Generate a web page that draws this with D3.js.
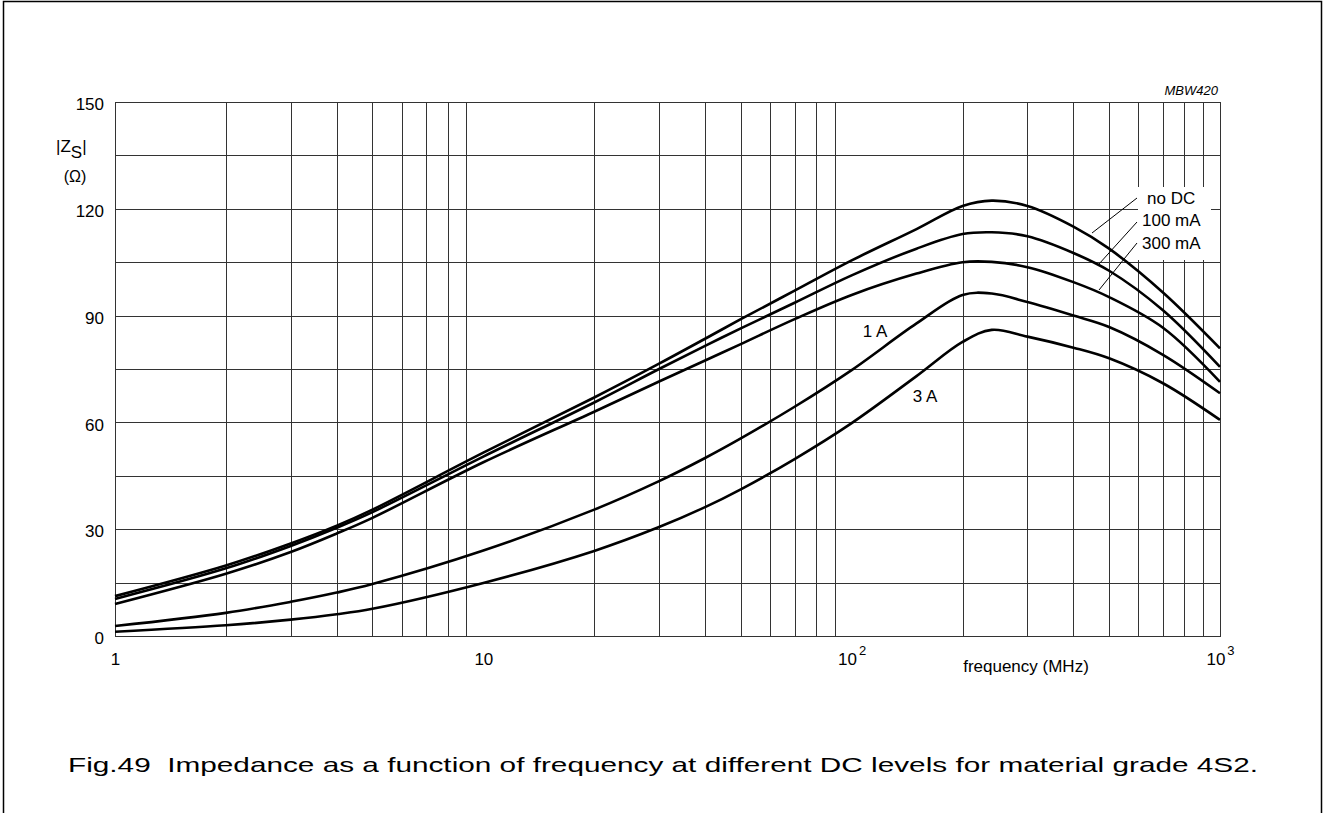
<!DOCTYPE html>
<html>
<head>
<meta charset="utf-8">
<script src="https://cdn.jsdelivr.net/npm/d3@7"></script>
<style>
  body { margin: 0; background: #fff; }
  svg text { font-family: "Liberation Sans", Arial, Helvetica, sans-serif; fill: #000; }
</style>
</head>
<body>
<div id="chart"></div>
<script>
const width = 1325;
const height = 813;
const margin = { top: 102, right: 105, bottom: 177, left: 115 };

// frequency points (MHz)
const freq = [1, 2, 3, 4, 5, 10, 20, 30, 40, 50, 70, 100, 150, 200, 240, 300, 400, 500, 700, 1000];

// |Zs| in ohm for each DC level
const noDC  = [11.2, 19.8, 26.0, 31.0, 35.5, 51.5, 67.0, 76.5, 83.5, 89.0, 97.0, 105.5, 114.3, 120.8, 122.3, 120.8, 115.0, 108.8, 96.5, 80.8];
const mA100 = [10.4, 19.0, 25.3, 30.4, 34.8, 50.4, 65.6, 75.0, 81.5, 86.4, 93.6, 101.3, 108.8, 112.9, 113.4, 112.3, 107.6, 102.6, 91.5, 75.6];
const mA300 = [9.0, 17.5, 23.6, 28.8, 33.2, 48.8, 63.0, 71.5, 77.4, 82.0, 89.0, 95.8, 101.8, 105.0, 105.1, 103.6, 99.4, 95.2, 86.6, 71.4];
const A1    = [2.8, 6.5, 9.6, 12.2, 14.6, 24.0, 35.5, 43.5, 50.0, 55.5, 64.4, 74.7, 87.8, 95.8, 96.2, 93.8, 90.0, 86.8, 79.0, 68.2];
const A3    = [1.2, 3.0, 4.6, 6.1, 7.65, 14.9, 23.9, 30.6, 36.2, 41.2, 49.7, 59.8, 73.0, 82.6, 86.0, 84.1, 81.0, 78.0, 71.0, 60.7];

const series = [noDC, mA100, mA300, A1, A3];

const yTicks = [0, 30, 60, 90, 120, 150];
const xTicks = [1, 10, 100, 1000];
const xTickLabels = [["1", ""], ["10", ""], ["10", "2"], ["10", "3"]];

const svg = d3.select("#chart")
    .append("svg")
    .attr("width", width)
    .attr("height", height);

// page frame
svg.append("path")
    .attr("d", `M3.5,${height + 5} V1.5 H1321.5 V${height + 5}`)
    .attr("fill", "none")
    .attr("stroke", "#000")
    .attr("stroke-width", 1.5);

const xScale = d3.scaleLog()
    .domain([1, 1000])
    .range([margin.left, width - margin.right]);

const yScale = d3.scaleLinear()
    .domain([0, 150])
    .range([height - margin.bottom, margin.top]);

// grid: every 1..9 per decade, every 15 ohm
const xGrid = [];
for (let d = 1; d < 1000; d *= 10) {
    for (let k = 2; k <= 9; k++) xGrid.push(d * k);
}
const yGrid = d3.range(15, 150, 15);

const grid = svg.append("g").attr("stroke", "#333").attr("stroke-width", 1);
grid.selectAll(".vx").data(xGrid).enter()
    .append("line")
    .attr("x1", d => Math.round(xScale(d)) + 0.5)
    .attr("x2", d => Math.round(xScale(d)) + 0.5)
    .attr("y1", yScale(0))
    .attr("y2", yScale(150));
grid.selectAll(".hy").data(yGrid).enter()
    .append("line")
    .attr("x1", xScale(1))
    .attr("x2", xScale(1000))
    .attr("y1", d => Math.round(yScale(d)) + 0.5)
    .attr("y2", d => Math.round(yScale(d)) + 0.5);

// plot border
svg.append("rect")
    .attr("x", xScale(1) + 0.5)
    .attr("y", yScale(150) + 0.5)
    .attr("width", xScale(1000) - xScale(1))
    .attr("height", yScale(0) - yScale(150))
    .attr("fill", "none")
    .attr("stroke", "#333")
    .attr("stroke-width", 1);

// white box behind the labels on the right
svg.append("rect")
    .attr("x", 1138)
    .attr("y", 187)
    .attr("width", 73)
    .attr("height", 73)
    .attr("fill", "#fff");

// curves
const line = d3.line()
    .x((d, i) => xScale(freq[i]))
    .y(d => yScale(d))
    .curve(d3.curveCatmullRom.alpha(0.5));

svg.selectAll(".curve").data(series).enter()
    .append("path")
    .attr("class", "curve")
    .attr("d", line)
    .attr("fill", "none")
    .attr("stroke", "#000")
    .attr("stroke-width", 2.6)
    .attr("stroke-linejoin", "round");

// axes
const yAxis = svg.append("g")
    .attr("transform", `translate(${margin.left},0)`)
    .call(d3.axisLeft(yScale).tickValues(yTicks).tickSize(0).tickPadding(11));
yAxis.select(".domain").remove();
yAxis.selectAll("text")
    .attr("font-size", 17)
    .attr("dy", "0.45em");

const xAxis = svg.append("g")
    .attr("transform", `translate(0,${height - margin.bottom})`)
    .call(d3.axisBottom(xScale).tickValues(xTicks).tickSize(0).tickPadding(17).tickFormat(""));
xAxis.select(".domain").remove();
xAxis.selectAll(".tick text").each(function (d, i) {
    const t = d3.select(this).attr("font-size", 17);
    t.append("tspan").text(xTickLabels[i][0]);
    if (xTickLabels[i][1]) {
        t.append("tspan").attr("font-size", 13).attr("dy", "-0.75em").attr("dx", 2).text(xTickLabels[i][1]);
    }
});

svg.append("text")
    .attr("x", 1026)
    .attr("y", 672)
    .attr("text-anchor", "middle")
    .attr("font-size", 17)
    .text("frequency (MHz)");

// y axis title |Zs| (Ω)
const yTitle = svg.append("text").attr("x", 56).attr("y", 152).attr("font-size", 17);
yTitle.append("tspan").text("|Z");
yTitle.append("tspan").attr("font-size", 17).attr("dy", 6).text("S");
yTitle.append("tspan").attr("dy", -6).text("|");
svg.append("text")
    .attr("x", 75)
    .attr("y", 182)
    .attr("text-anchor", "middle")
    .attr("font-size", 16)
    .text("(\u03A9)");

svg.append("text")
    .attr("x", 1218)
    .attr("y", 95)
    .attr("text-anchor", "end")
    .attr("font-size", 13)
    .attr("font-style", "italic")
    .text("MBW420");

// curve labels and leader lines
const labels = [
    { text: "no DC", x: 1147, y: 204 },
    { text: "100 mA", x: 1142, y: 226 },
    { text: "300 mA", x: 1142, y: 249 }
];
svg.selectAll(".lbl").data(labels).enter()
    .append("text")
    .attr("x", d => d.x)
    .attr("y", d => d.y)
    .attr("font-size", 17)
    .text(d => d.text);

const leaders = [
    [[1092, 233], [1137, 198]],
    [[1099, 264], [1137, 222]],
    [[1099, 290], [1137, 243]]
];
svg.selectAll(".leader").data(leaders).enter()
    .append("line")
    .attr("x1", d => d[0][0]).attr("y1", d => d[0][1])
    .attr("x2", d => d[1][0]).attr("y2", d => d[1][1])
    .attr("stroke", "#000")
    .attr("stroke-width", 1);

svg.append("text").attr("x", 875).attr("y", 337).attr("text-anchor", "middle").attr("font-size", 17).text("1 A");
svg.append("text").attr("x", 925).attr("y", 402).attr("text-anchor", "middle").attr("font-size", 17).text("3 A");

// caption
svg.append("text")
    .attr("x", 68)
    .attr("y", 772)
    .attr("font-size", 21)
    .attr("textLength", 1190)
    .attr("lengthAdjust", "spacingAndGlyphs")
    .style("white-space", "pre")
    .text("Fig.49  Impedance as a function of frequency at different DC levels for material grade 4S2.");
</script>
</body>
</html>
